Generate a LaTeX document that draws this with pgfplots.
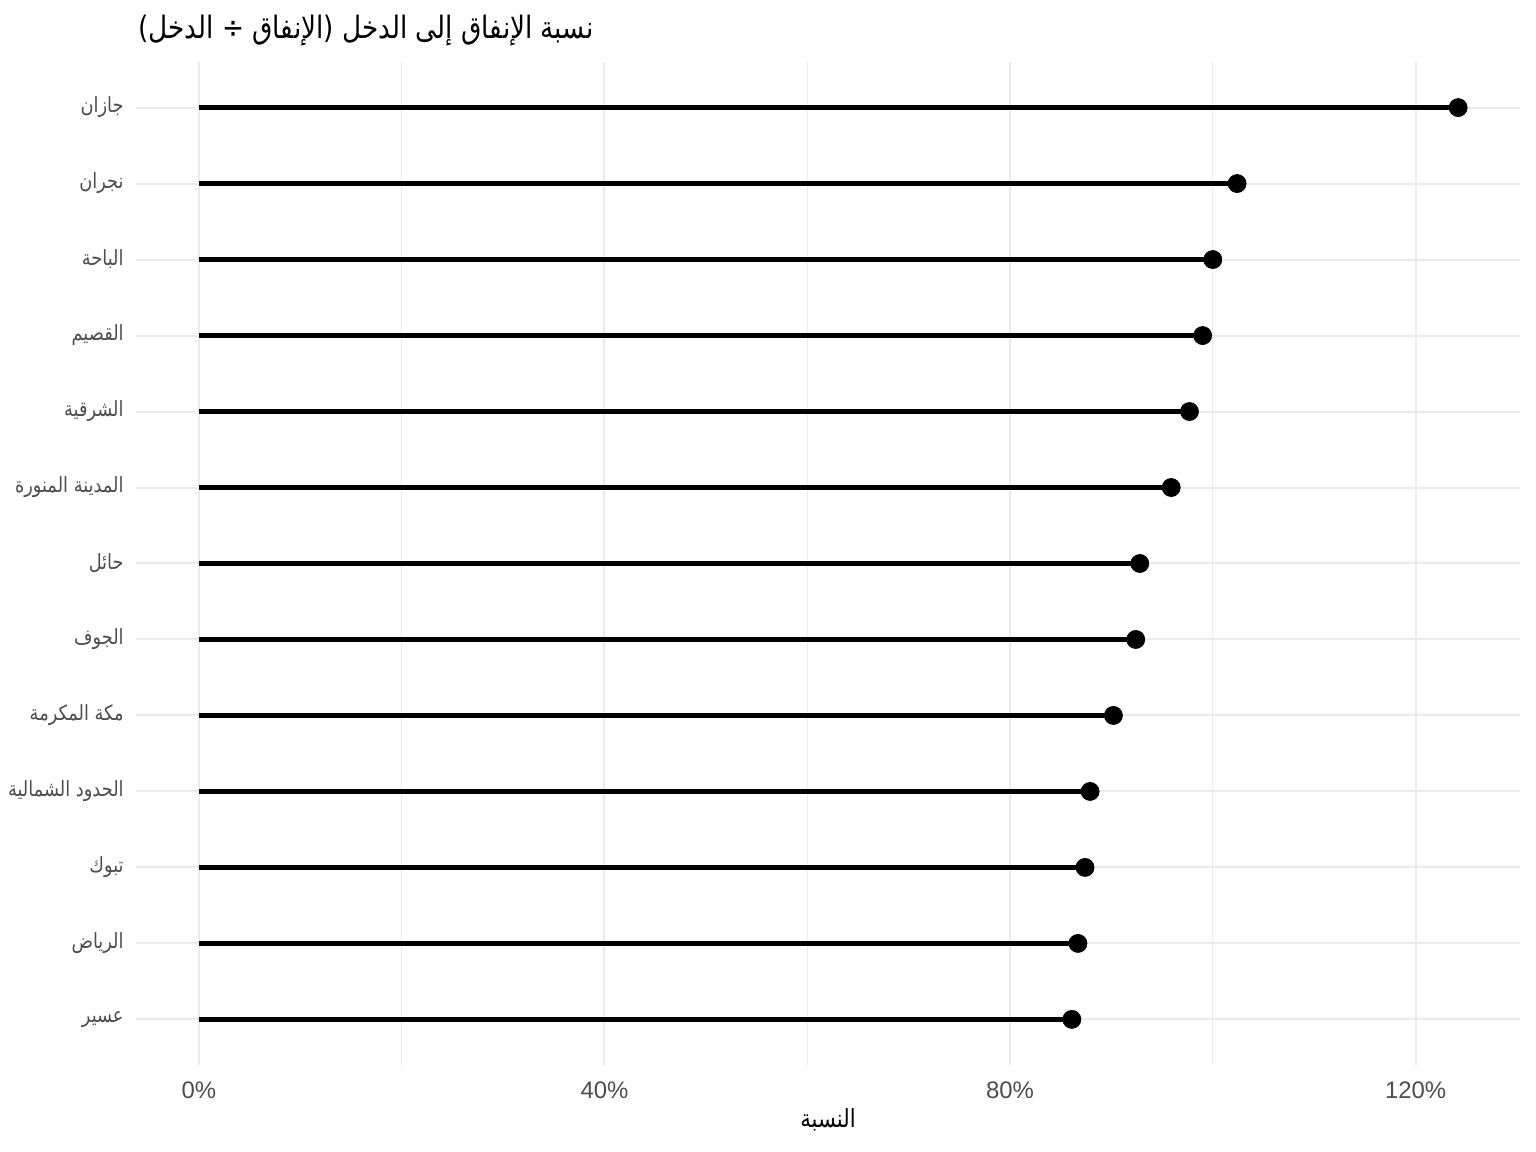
\documentclass[border=0pt]{standalone}
\usepackage{fontspec}
\setmainfont{Liberation Sans}
\newfontfamily\arabicfont[Script=Arabic, FakeStretch=0.85]{DejaVu Sans}
\TeXXeTstate=1
\usepackage{pgfplots}
\usepackage{pgfplotstable}
\pgfplotsset{compat=1.18}
\definecolor{gridgray}{HTML}{EBEBEB}
\definecolor{ticktext}{HTML}{4D4D4D}

% y = row from bottom, v = spending / income
\pgfplotstableread{
y v
1 0.861
2 0.867
3 0.874
4 0.879
5 0.902
6 0.924
7 0.928
8 0.959
9 0.977
10 0.990
11 1.000
12 1.024
13 1.242
}\ratios

\begin{document}
\begin{tikzpicture}
\useasboundingbox (0,0) rectangle (768bp,576bp);
\begin{axis}[
    at={(68bp,43.5bp)}, anchor=south west,
    scale only axis,
    width=692bp, height=501.5bp,
    xmin=-0.062, xmax=1.303,
    ymin=0.4, ymax=13.6,
    axis line style={draw=none},
    major tick length=0, minor tick length=0,
    xtick={0,0.4,0.8,1.2},
    xticklabels={0\%,40\%,80\%,120\%},
    minor xtick={0.2,0.6,1.0},
    ytick={1,...,13},
    yticklabels={
        {\arabicfont\beginR عسير\endR},
        {\arabicfont\beginR الرياض\endR},
        {\arabicfont\beginR تبوك\endR},
        {\arabicfont\beginR الحدود الشمالية\endR},
        {\arabicfont\beginR مكة المكرمة\endR},
        {\arabicfont\beginR الجوف\endR},
        {\arabicfont\beginR حائل\endR},
        {\arabicfont\beginR المدينة المنورة\endR},
        {\arabicfont\beginR الشرقية\endR},
        {\arabicfont\beginR القصيم\endR},
        {\arabicfont\beginR الباحة\endR},
        {\arabicfont\beginR نجران\endR},
        {\arabicfont\beginR جازان\endR}},
    grid=both,
    major grid style={gridgray, line width=1bp},
    minor grid style={gridgray, line width=0.55bp},
    tick label style={color=ticktext},
    xticklabel style={font=\fontsize{12}{14}\selectfont, anchor=center, yshift=-12.5bp},
    yticklabel style={font=\fontsize{10.5}{12}\selectfont, anchor=east, inner sep=0pt, xshift=-6bp},
    xlabel={\arabicfont\beginR النسبة\endR},
    xlabel style={font=\fontsize{12.5}{15}\selectfont, at={(axis description cs:0.5,0)}, anchor=center, yshift=-27.5bp},
    title={\arabicfont\beginR نسبة الإنفاق إلى الدخل (الإنفاق ÷ الدخل)\endR},
    title style={font=\fontsize{15.5}{18}\selectfont, at={(axis description cs:0,1)}, anchor=west, inner sep=0pt, xshift=1bp, yshift=9.5bp},
    clip=false,
]
\addplot[xcomb, black, line width=2.5bp] table[x=v, y=y] {\ratios};
\addplot[only marks, mark=*, mark size=4.5bp, black] table[x=v, y=y] {\ratios};
\end{axis}
\end{tikzpicture}
\end{document}
